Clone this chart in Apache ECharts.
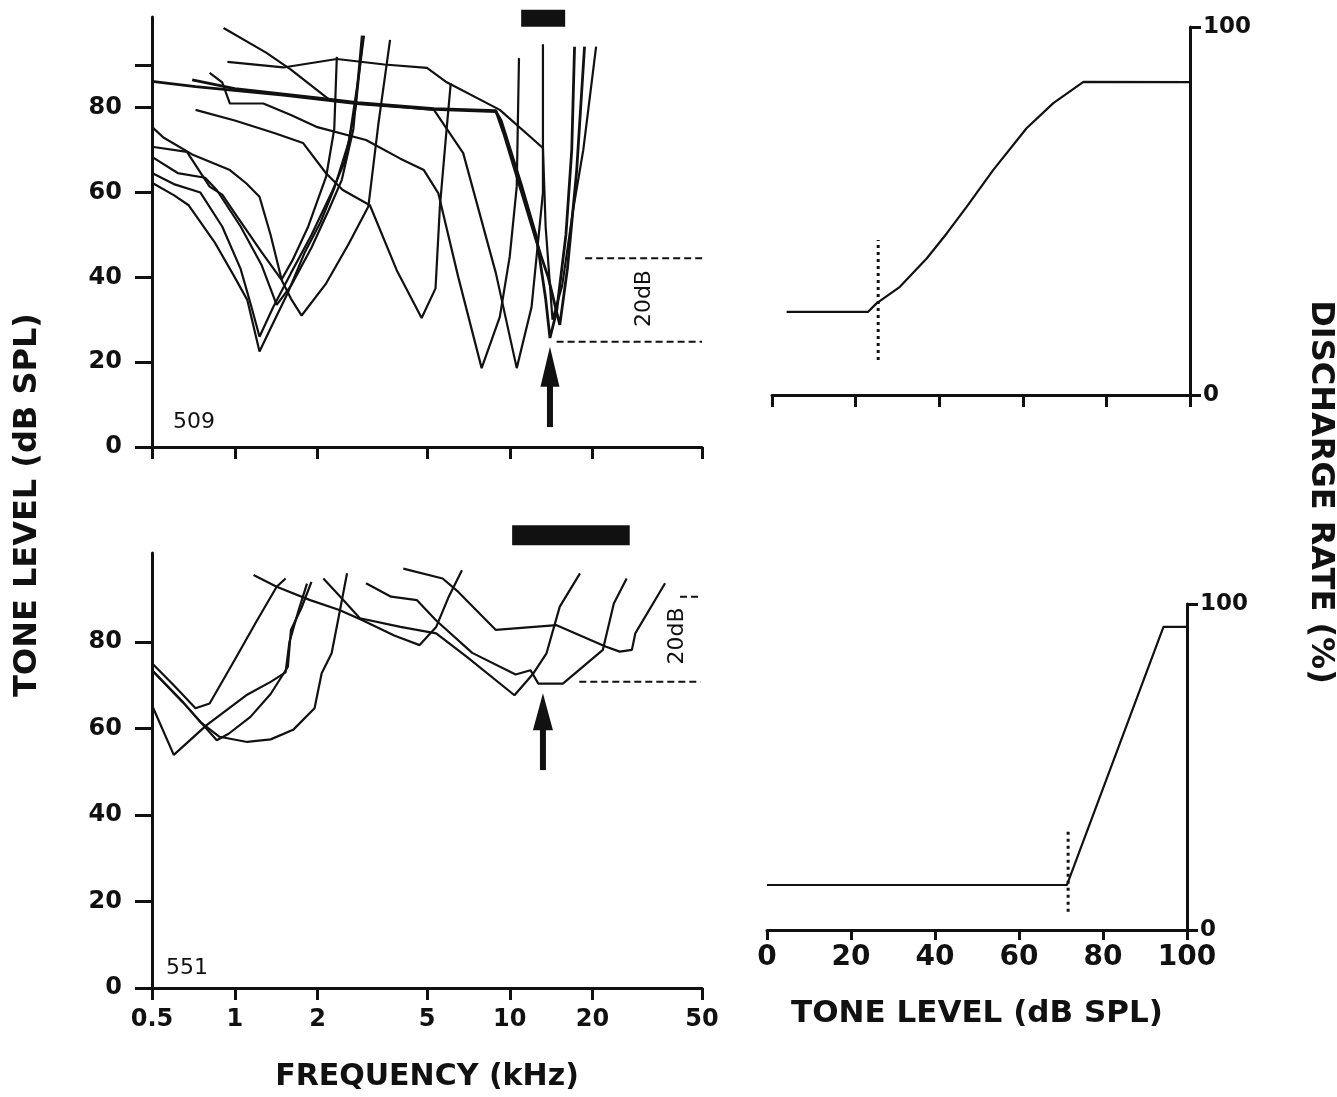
<!DOCTYPE html>
<html><head><meta charset="utf-8">
<script src="https://cdn.jsdelivr.net/npm/echarts@6/dist/echarts.min.js"></script>
<style>html,body{margin:0;padding:0;background:#fff}#c{width:1337px;height:1097px}</style>
</head><body><div id="c"></div>
<script>
// ---------- tick labels ----------
const freqTicks = [0.5, 1, 2, 5, 10, 20, 50];
const levelTicksTop = [0, 20, 40, 60, 80, 90];
const levelLabels = [0, 20, 40, 60, 80];
const rateTicks = [0, 100];

// ---------- unit 509 tuning curves (kHz, dB SPL) ----------
const u509_a = [[0.5,62.3],[0.6,59.4],[0.68,57],[0.85,48],[1.0,40],[1.11,34.7],[1.23,22.5],[1.35,28],[1.55,36],[1.8,46],[2.05,53],[2.3,61],[2.6,72],[2.8,86],[2.95,97]];
const u509_b = [[0.5,64.6],[0.6,62],[0.75,60],[0.9,52],[1.05,42],[1.15,33],[1.23,26],[1.38,33],[1.6,41],[1.9,50],[2.25,60],[2.5,67],[2.75,80],[2.92,96]];
const u509_c = [[0.5,68.4],[0.62,64.6],[0.78,63.5],[0.86,60.6],[1.05,52],[1.25,43],[1.42,33.5],[1.6,38],[1.9,47],[2.2,56],[2.45,63],[2.7,75],[2.9,97]];
const u509_d = [[0.5,75.5],[0.55,73],[0.7,69],[0.96,65.3],[1.1,62.2],[1.23,59],[1.35,50],[1.48,39.5],[1.62,44],[1.85,52],[2.15,63.8],[2.3,75],[2.35,92]];
const u509_e = [[0.5,70.8],[0.67,69.6],[0.81,61.4],[0.9,59.5],[1.02,54.3],[1.25,46],[1.48,39.4],[1.6,35],[1.75,31],[2.15,38.6],[2.6,48],[3.06,56.7],[3.33,76.3],[3.67,96]];
const u509_f = [[0.72,79.5],[1.0,77],[1.4,74],[1.77,71.7],[2.15,64.5],[2.47,60.6],[3.1,57],[3.88,41.7],[4.78,30.4],[5.37,37.4],[5.57,56.7],[5.86,73.2],[6.1,85.8]];
const u509_g = [[0.81,88.2],[0.9,86],[0.96,81],[1.27,81],[1.6,78.3],[1.98,75.5],[3.0,72.4],[4.0,68],[4.87,65.3],[5.5,59.8],[6.5,40],[7.9,18.6],[9.2,30.7],[10.0,45],[10.6,61.4],[10.8,91.7]];
const u509_h = [[0.91,98.8],[1.3,93],[1.6,89],[2.2,82],[2.8,81],[4.0,80.2],[5.3,79.5],[6.77,69.3],[8.9,41],[10.6,18.6],[12.0,33],[13.2,60],[13.2,95]];
const u509_i = [[0.5,86.2],[0.72,85],[1.5,83],[2.77,81],[5.3,79.6],[8.9,79.1],[9.3,77],[11.0,62],[12.5,49.6],[13.5,35],[14.0,25.7],[14.8,32],[16,50],[16.8,70],[17.2,94.4]];
const u509_j = [[0.94,90.8],[1.5,89.5],[2.35,91.5],[3.5,90.2],[5.0,89.4],[5.9,86],[9.2,79.5],[13.2,70.5],[13.5,52],[14.3,30],[15.5,38],[17,56],[18.5,70],[20.6,94.4]];
const u509_k = [[0.7,86.6],[1.0,84.5],[2.0,82.3],[2.8,81.2],[5.3,79.8],[8.9,79.3],[9.5,74],[12.3,50],[13.0,45],[13.8,40],[15.2,28.8],[16.2,42],[17.5,65],[18.7,94.4]];

// ---------- unit 551 tuning curves ----------
const u551_a = [[0.5,75.1],[0.6,70],[0.72,64.7],[0.81,65.8],[1.0,75.9],[1.2,84.8],[1.42,92.8],[1.53,94.7]];
const u551_b = [[0.5,73.5],[0.65,66],[0.86,57.3],[0.95,58.8],[1.14,62.7],[1.35,68],[1.56,74.3],[1.6,82.8],[1.75,88],[1.9,93.9]];
const u551_c = [[0.5,65.4],[0.6,53.9],[0.79,60.8],[1.1,67.7],[1.35,70.8],[1.53,73],[1.58,80],[1.7,87],[1.83,93.5]];
const u551_d = [[0.5,73.5],[0.65,66],[0.75,61.5],[0.88,58.1],[1.11,56.9],[1.35,57.5],[1.63,59.7],[1.95,64.7],[2.07,72.8],[2.25,77.4],[2.4,86.6],[2.56,95.9]];
const u551_e = [[1.17,95.5],[1.42,92.8],[1.88,89.7],[2.4,87.4],[2.9,85.1],[3.8,81.5],[4.7,79.3],[5.4,83.5],[6.0,90.5],[6.7,96.6]];
const u551_f = [[2.1,94.7],[2.5,89.5],[2.85,85.5],[4.0,83.5],[5.4,82],[7.0,76.5],[10.4,67.7],[12.2,72.8],[13.6,77.4],[15.2,88.2],[18.0,95.9]];
const u551_g = [[3.0,93.6],[3.7,90.5],[4.6,89.7],[5.4,85],[7.3,77.5],[10.5,72.5],[11.9,73.5],[12.7,70.4],[15.6,70.4],[21.8,78.2],[23.9,88.9],[26.6,94.7]];
const u551_h = [[4.1,97],[5.7,94.7],[6.5,91.6],[8.9,82.8],[14.8,83.9],[22.4,78.9],[25.1,77.8],[27.8,78.2],[28.6,82],[36.7,93.6]];

// ---------- annotations (kHz / dB) ----------
const barTop = [[11.0,101.1],[15.9,101.1]];
const barBottom = [[10.2,104.7],[27.3,104.7]];
const dashTopHigh = [[18.8,44.5],[51.5,44.5]];
const dashTopLow = [[14.8,24.8],[50,24.8]];
const dashBottomHigh = [[41.6,90.5],[50,90.5]];
const dashBottomLow = [[17.9,70.8],[49.4,70.8]];
const arrowTopShaft = [[14.0,4.7],[14.0,16]];
const arrowTopHead = [[14.0,18.9]];
const arrowBottomShaft = [[13.2,50.4],[13.2,60.5]];
const arrowBottomHead = [[13.2,63.9]];
const label509 = [[0.71,5.9]];
const label551 = [[0.67,4.6]];
const label20dBTop = [[30.8,35]];
const label20dBBottom = [[40.6,81.4]];

// ---------- rate-level functions (dB SPL, % rate) ----------
const rateTop = [[3.5,22.6],[23,22.6],[25,24.9],[30.6,29.4],[37,37.1],[41.8,43.9],[46.6,51.2],[52.9,61.1],[60.9,72.5],[67.3,79.3],[74.5,85.1],[100,85]];
const threshTop = [[25.4,9.5],[25.4,42.1]];
const rateBottom = [[0,13.8],[71.4,13.8],[94.4,93],[100,93]];
const threshBottom = [[71.7,5.6],[71.7,30.7]];

const INK = '#111';
const BOLD = 'DejaVu Sans';

function curve(data, i, extra) {
  return Object.assign({type:'line', xAxisIndex:i, yAxisIndex:i, data:data, symbol:'none', silent:true,
    lineStyle:{color:INK, width:2.2}}, extra || {});
}
function textMark(data, i, text, size, rotate) {
  return {type:'scatter', xAxisIndex:i, yAxisIndex:i, data:data, symbolSize:1, silent:true,
    itemStyle:{color:'rgba(0,0,0,0)', opacity:1},
    label:{show:true, position:'inside', formatter:text, color:INK, opacity:1, fontFamily:'DejaVu Sans', fontSize:size, rotate:rotate || 0}};
}
function head(data, i, size) {
  return {type:'scatter', xAxisIndex:i, yAxisIndex:i, data:data, symbol:'triangle', symbolSize:size, silent:true,
    itemStyle:{color:INK, opacity:1}, clip:false};
}

const axisLineStyle = {onZero:false, lineStyle:{color:INK, width:3}};
const tickStyle = {lineStyle:{color:INK, width:3}};

const freqAxis = (gi, showLabels) => ({
  gridIndex: gi, type:'log', logBase:10, min:0.5, max:50,
  axisLine: axisLineStyle,
  axisTick: Object.assign({customValues:freqTicks, length:12, inside:false}, tickStyle),
  axisLabel: {show:showLabels, customValues:freqTicks, margin:20, color:INK, fontFamily:BOLD, fontWeight:'bold', fontSize:24},
  splitLine:{show:false}, minorTick:{show:false}, minorSplitLine:{show:false}
});

const option = {
  animation:false,
  backgroundColor:'#fff',
  grid:[
    {left:152, top:17, width:550, height:430, outerBoundsMode:'none'},
    {left:152, top:553, width:550, height:435, outerBoundsMode:'none'},
    {left:772, top:27, width:418, height:368, outerBoundsMode:'none'},
    {left:767, top:604, width:420, height:326, outerBoundsMode:'none'}
  ],
  xAxis:[
    freqAxis(0, false),
    Object.assign(freqAxis(1, true), {name:'FREQUENCY (kHz)', nameLocation:'middle', nameGap:74,
      nameTextStyle:{color:INK, fontFamily:BOLD, fontWeight:'bold', fontSize:30}}),
    {gridIndex:2, type:'value', min:0, max:100, interval:20, axisLine:axisLineStyle,
      axisTick:Object.assign({length:12}, tickStyle), axisLabel:{show:false}, splitLine:{show:false}},
    {gridIndex:3, type:'value', min:0, max:100, interval:20, axisLine:axisLineStyle,
      axisTick:Object.assign({length:10}, tickStyle),
      axisLabel:{show:true, margin:14, color:INK, fontFamily:BOLD, fontWeight:'bold', fontSize:28},
      splitLine:{show:false},
      name:'TONE LEVEL (dB SPL)', nameLocation:'middle', nameGap:68,
      nameTextStyle:{color:INK, fontFamily:BOLD, fontWeight:'bold', fontSize:31}}
  ],
  yAxis:[
    {gridIndex:0, type:'value', min:0, max:101.4, axisLine:axisLineStyle,
      axisTick:Object.assign({customValues:levelTicksTop, length:17}, tickStyle),
      axisLabel:{customValues:levelLabels, margin:30, color:INK, fontFamily:BOLD, fontWeight:'bold', fontSize:24},
      splitLine:{show:false}},
    {gridIndex:1, type:'value', min:0, max:100.6, axisLine:axisLineStyle,
      axisTick:Object.assign({customValues:levelLabels, length:17}, tickStyle),
      axisLabel:{customValues:levelLabels, margin:30, color:INK, fontFamily:BOLD, fontWeight:'bold', fontSize:24},
      splitLine:{show:false}},
    {gridIndex:2, type:'value', position:'right', min:0, max:100, interval:100, axisLine:axisLineStyle,
      axisTick:Object.assign({length:11}, tickStyle),
      axisLabel:{margin:13, color:INK, fontFamily:BOLD, fontWeight:'bold', fontSize:23},
      splitLine:{show:false}},
    {gridIndex:3, type:'value', position:'right', min:0, max:100, interval:100, axisLine:axisLineStyle,
      axisTick:Object.assign({length:11}, tickStyle),
      axisLabel:{margin:13, color:INK, fontFamily:BOLD, fontWeight:'bold', fontSize:23},
      splitLine:{show:false}}
  ],
  graphic:[
    {type:'text', x:28, y:505, rotation:Math.PI/2, silent:true,
      style:{text:'TONE LEVEL (dB SPL)', fill:INK, font:'bold 32px "DejaVu Sans"', align:'center', verticalAlign:'middle'}},
    {type:'text', x:1320, y:492, rotation:-Math.PI/2, silent:true,
      style:{text:'DISCHARGE RATE (%)', fill:INK, font:'bold 32px "DejaVu Sans"', align:'center', verticalAlign:'middle'}}
  ],
  series:[
    curve(u509_a,0), curve(u509_b,0), curve(u509_c,0), curve(u509_d,0), curve(u509_e,0), curve(u509_f,0),
    curve(u509_g,0), curve(u509_h,0), curve(u509_i,0,{lineStyle:{color:INK,width:2.8}}), curve(u509_j,0), curve(u509_k,0,{lineStyle:{color:INK,width:2.8}}),
    curve(u551_a,1), curve(u551_b,1), curve(u551_c,1), curve(u551_d,1), curve(u551_e,1), curve(u551_f,1), curve(u551_g,1), curve(u551_h,1),
    curve(barTop,0,{clip:false, lineStyle:{color:INK, width:17, cap:'butt'}}),
    curve(barBottom,1,{clip:false, lineStyle:{color:INK, width:20, cap:'butt'}}),
    curve(dashTopHigh,0,{clip:false, lineStyle:{color:INK, width:2, type:[7,4]}}),
    curve(dashTopLow,0,{clip:false, lineStyle:{color:INK, width:2, type:[7,4]}}),
    curve(dashBottomHigh,1,{clip:false, lineStyle:{color:INK, width:2, type:[7,4]}}),
    curve(dashBottomLow,1,{clip:false, lineStyle:{color:INK, width:2, type:[7,4]}}),
    curve(arrowTopShaft,0,{lineStyle:{color:INK, width:6, cap:'butt'}}),
    head(arrowTopHead,0,[19,40]),
    curve(arrowBottomShaft,1,{lineStyle:{color:INK, width:6, cap:'butt'}}),
    head(arrowBottomHead,1,[20,37]),
    textMark(label509,0,'509',22),
    textMark(label551,1,'551',22),
    textMark(label20dBTop,0,'20dB',22,90),
    textMark(label20dBBottom,1,'20dB',22,90),
    curve(rateTop,2),
    curve(threshTop,2,{lineStyle:{color:INK, width:3, type:[3,4]}}),
    curve(rateBottom,3),
    curve(threshBottom,3,{lineStyle:{color:INK, width:3, type:[3,4]}})
  ]
};
const chart = echarts.init(document.getElementById('c'), null, {renderer:'canvas'});
chart.setOption(option);
</script>
</body></html>
